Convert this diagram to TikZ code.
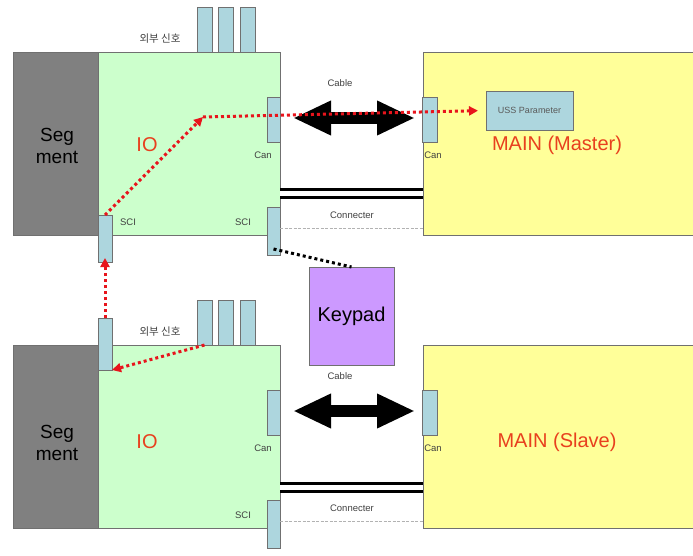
\documentclass[tikz,border=0pt]{standalone}
\usepackage{fontspec}
\setmainfont{Liberation Sans}
\newfontfamily\krfont{Noto Sans CJK KR}
\usetikzlibrary{arrows.meta}

\definecolor{segGray}{HTML}{808080}
\definecolor{ioGreen}{HTML}{CCFFCC}
\definecolor{mainYellow}{HTML}{FFFF99}
\definecolor{portBlue}{HTML}{ADD6DE}
\definecolor{keyPurple}{HTML}{CC99FF}
\definecolor{sigRed}{HTML}{E8141C}
\definecolor{txtRed}{HTML}{E8401E}
\definecolor{edgeGray}{HTML}{707070}

\begin{document}
\begin{tikzpicture}[x=1pt,y=-1pt,
  blk/.style={draw=edgeGray, line width=0.7pt, anchor=north west, inner sep=0pt, outer sep=0pt},
  segbox/.style={blk, fill=segGray},
  iobox/.style={blk, fill=ioGreen},
  mainbox/.style={blk, fill=mainYellow},
  portbox/.style={blk, fill=portBlue},
  keybox/.style={blk, fill=keyPurple},
  small/.style={font=\fontsize{9.5}{11}\selectfont, text=black!75, inner sep=0pt},
  big/.style={font=\fontsize{19}{22}\selectfont, align=center, inner sep=0pt},
  redtxt/.style={font=\fontsize{20}{22}\selectfont, text=txtRed, inner sep=0pt},
  reddot/.style={draw=sigRed, line width=3pt, dash pattern=on 3pt off 3pt,
    -{Triangle[length=9pt,width=9pt]}, sigRed},
  blackdot/.style={draw=black, line width=3pt, dash pattern=on 3pt off 3pt},
  bigarrow/.style={line width=12pt,
    {Triangle[length=38pt,width=32pt]}-{Triangle[length=38pt,width=32pt]}},
  twin/.style={line width=3pt, double distance=5pt, draw=black},
  faint/.style={draw=black!30, line width=0.6pt, dash pattern=on 3pt off 1.5pt}
]
\useasboundingbox (0,0) rectangle (693,556);

% two identical units: master on top, slave below
\foreach \p/\dy/\dl/\role in {m/0/0/Master, s/293/4/Slave} {
\begin{scope}[shift={(0,\dy)}, name prefix=\p-]
  % connector pins on top of the IO board
  \node[portbox, minimum width=15pt, minimum height=45pt] (pin1) at (197,7) {};
  \node[portbox, minimum width=15pt, minimum height=45pt] (pin2) at (218,7) {};
  \node[portbox, minimum width=15pt, minimum height=45pt] (pin3) at (240,7) {};
  \node[small, font=\krfont\fontsize{10.5}{11}\selectfont] (ext) at (160,39) {외부 신호};

  % boards
  \node[segbox, minimum width=85pt, minimum height=183pt] (seg) at (13,52) {};
  \node[iobox, minimum width=182pt, minimum height=183pt] (io) at (98,52) {};
  \node[mainbox, minimum width=290pt, minimum height=183pt] (main) at (423,52) {};

  \node[big] (segtxt) at (57,146+\dl) {Seg\\ment};
  \node[redtxt] (iotxt) at (147,145+\dl) {IO};
  \node[redtxt] (maintxt) at (557,145+\dl) {MAIN (\role)};

  % CAN ports and cable
  \node[portbox, minimum width=13pt, minimum height=45pt] (can) at (267,97) {};
  \node[portbox, minimum width=15pt, minimum height=45pt] (mcan) at (422,97) {};
  \node[small] (cantxt) at (263,155) {Can};
  \node[small] (mcantxt) at (433,155) {Can};
  \node[small] (cable) at (340,83) {Cable};
  \draw[bigarrow, shorten <=13pt, shorten >=7pt] (can.east |- 0,118) -- (mcan.west |- 0,118);

  % SCI port and board connector
  \node[portbox, minimum width=13pt, minimum height=48pt] (sci) at (267,207) {};
  \node[small] (scitxt) at (243,222) {SCI};
  \draw[twin] (io.east |- 0,194) -- (main.west |- 0,194);
  \node[small] (conn) at (352,215) {Connecter};
  \draw[faint] (io.east |- 0,228) -- (main.west |- 0,228);
\end{scope}
}

% SCI ports on the segment side
\node[portbox, minimum width=14pt, minimum height=47pt] (sciA) at (98,215) {};
\node[small] (sciAtxt) at (128,222) {SCI};
\node[portbox, minimum width=14pt, minimum height=52pt] (sciB) at (98,318) {};

% parameter block of the master
\node[portbox, minimum width=87pt, minimum height=39pt] (uss) at (486,91) {};
\node[small, font=\fontsize{9}{10}\selectfont, text=black!65] at (uss.center) {USS Parameter};

% keypad
\node[keybox, minimum width=85pt, minimum height=98pt] (keypad) at (309,267) {};
\node[font=\fontsize{20}{22}\selectfont, inner sep=0pt] at (keypad.center) {Keypad};

% signal paths
\coordinate (bend) at (203,117);
\draw[reddot, shorten >=-4pt] (sciB.north) -- (sciA.south);
\draw[reddot] (sciA.north) -- (bend);
\draw[reddot, shorten >=8pt] (bend) -- (uss.west);
\draw[reddot] (s-pin1.south) -- (sciB.south east);
\draw[blackdot] ([yshift=6pt]m-sci.south) -- (keypad.north);
\end{tikzpicture}
\end{document}
